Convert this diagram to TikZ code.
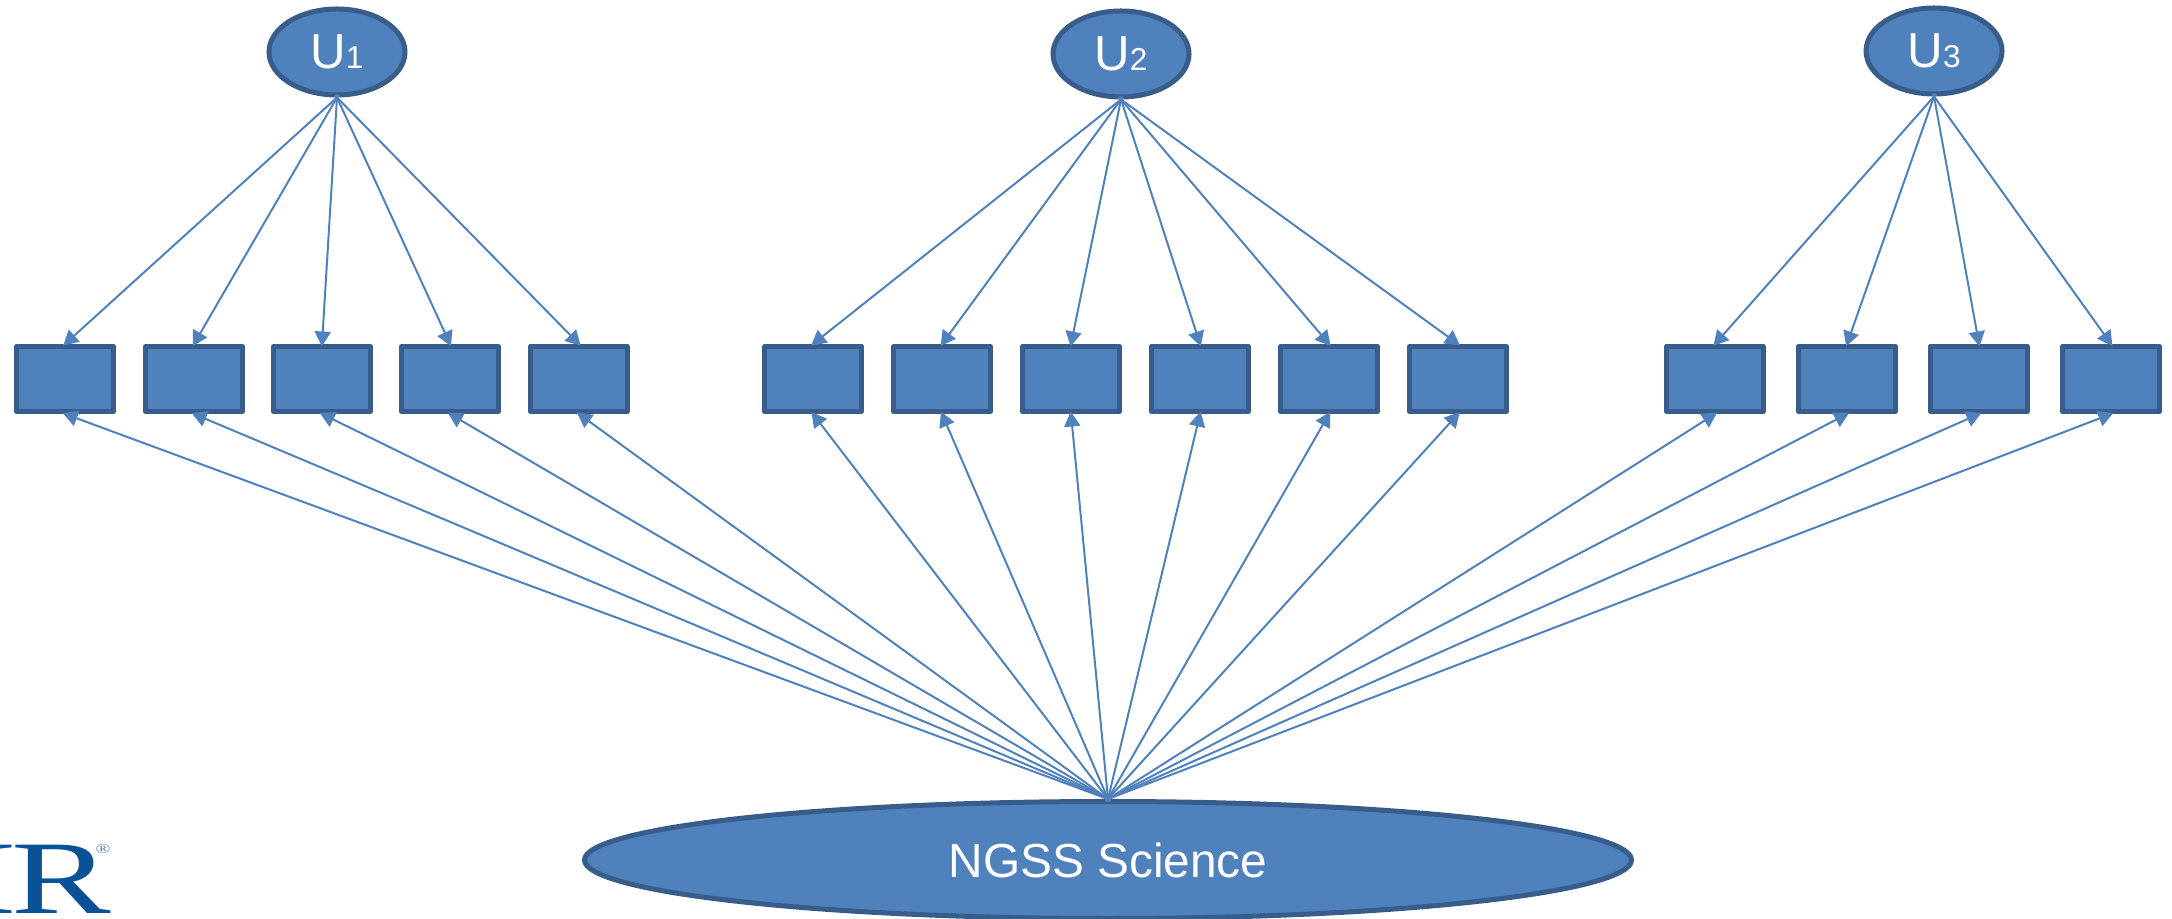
\documentclass[tikz,border=0pt]{standalone}
\usepackage{fontspec}
\setmainfont{Liberation Sans}
\newfontfamily\logofont{Liberation Serif}
\usetikzlibrary{arrows.meta, shapes.geometric}
\definecolor{nodefill}{HTML}{4F81BD}
\definecolor{nodeline}{HTML}{385D8A}
\definecolor{logoblue}{HTML}{0A5296}
\newcommand{\Usub}[1]{U{\fontsize{9pt}{9pt}\selectfont #1}}
\tikzset{
  latent/.style={ellipse,draw=nodeline,fill=nodefill,line width=0.05cm,inner sep=0pt,text=white,font=\fontsize{14pt}{14pt}\selectfont,minimum width=1.36cm,minimum height=0.86cm},
  general/.style={latent,font=\fontsize{13.6pt}{13.6pt}\selectfont,minimum width=10.47cm,minimum height=1.17cm},
  itembox/.style={rectangle,draw=nodeline,fill=nodefill,line width=0.05cm,line join=round,minimum width=0.97cm,minimum height=0.65cm},
  link/.style={draw=nodefill,line width=0.02cm,shorten <=-0.03cm,shorten >=-0.025cm,-{Triangle[length=0.15cm,width=0.16cm]}}
}

\begin{document}
\begin{tikzpicture}
\useasboundingbox (0,0) rectangle (21.72,9.18);
%top ellipses
\node[latent] (u1) at (3.37,8.66) {\Usub{1}};
\node[latent] (u2) at (11.21,8.64) {\Usub{2}};
\node[latent] (u3) at (19.34,8.67) {\Usub{3}};
%bottom ellipse
\node[general] (ngss) at (11.08,0.58) {NGSS Science};
%first group
\node[itembox] (a1) at (0.65,5.39) {};
\node[itembox] (a2) at (1.94,5.39) {};
\node[itembox] (a3) at (3.22,5.39) {};
\node[itembox] (a4) at (4.50,5.39) {};
\node[itembox] (a5) at (5.79,5.39) {};
%second group
\node[itembox] (b1) at (8.13,5.39) {};
\node[itembox] (b2) at (9.42,5.39) {};
\node[itembox] (b3) at (10.71,5.39) {};
\node[itembox] (b4) at (12.00,5.39) {};
\node[itembox] (b5) at (13.29,5.39) {};
\node[itembox] (b6) at (14.58,5.39) {};
%third group
\node[itembox] (c1) at (17.15,5.39) {};
\node[itembox] (c2) at (18.47,5.39) {};
\node[itembox] (c3) at (19.79,5.39) {};
\node[itembox] (c4) at (21.11,5.39) {};
%down from u1
\draw[link] (u1.south) -- (a1.north);
\draw[link] (u1.south) -- (a2.north);
\draw[link] (u1.south) -- (a3.north);
\draw[link] (u1.south) -- (a4.north);
\draw[link] (u1.south) -- (a5.north);
%down from u2
\draw[link] (u2.south) -- (b1.north);
\draw[link] (u2.south) -- (b2.north);
\draw[link] (u2.south) -- (b3.north);
\draw[link] (u2.south) -- (b4.north);
\draw[link] (u2.south) -- (b5.north);
\draw[link] (u2.south) -- (b6.north);
%down from u3
\draw[link] (u3.south) -- (c1.north);
\draw[link] (u3.south) -- (c2.north);
\draw[link] (u3.south) -- (c3.north);
\draw[link] (u3.south) -- (c4.north);
%up from ngss
\draw[link] (ngss.north) -- (a1.south);
\draw[link] (ngss.north) -- (a2.south);
\draw[link] (ngss.north) -- (a3.south);
\draw[link] (ngss.north) -- (a4.south);
\draw[link] (ngss.north) -- (a5.south);
\draw[link] (ngss.north) -- (b1.south);
\draw[link] (ngss.north) -- (b2.south);
\draw[link] (ngss.north) -- (b3.south);
\draw[link] (ngss.north) -- (b4.south);
\draw[link] (ngss.north) -- (b5.south);
\draw[link] (ngss.north) -- (b6.south);
\draw[link] (ngss.north) -- (c1.south);
\draw[link] (ngss.north) -- (c2.south);
\draw[link] (ngss.north) -- (c3.south);
\draw[link] (ngss.north) -- (c4.south);
%logo, cut off at the page edge
\node[anchor=base east,inner sep=0pt,text=logoblue,xscale=1.43,transform shape,font=\logofont\fontsize{29.7pt}{29.7pt}\selectfont] (logo) at (1.115,0.05) {I\kern-0.04em R\kern-3pt\raisebox{17pt}{\fontsize{3.9pt}{3.9pt}\selectfont\color{logoblue!70}®}};
\end{tikzpicture}
\end{document}
